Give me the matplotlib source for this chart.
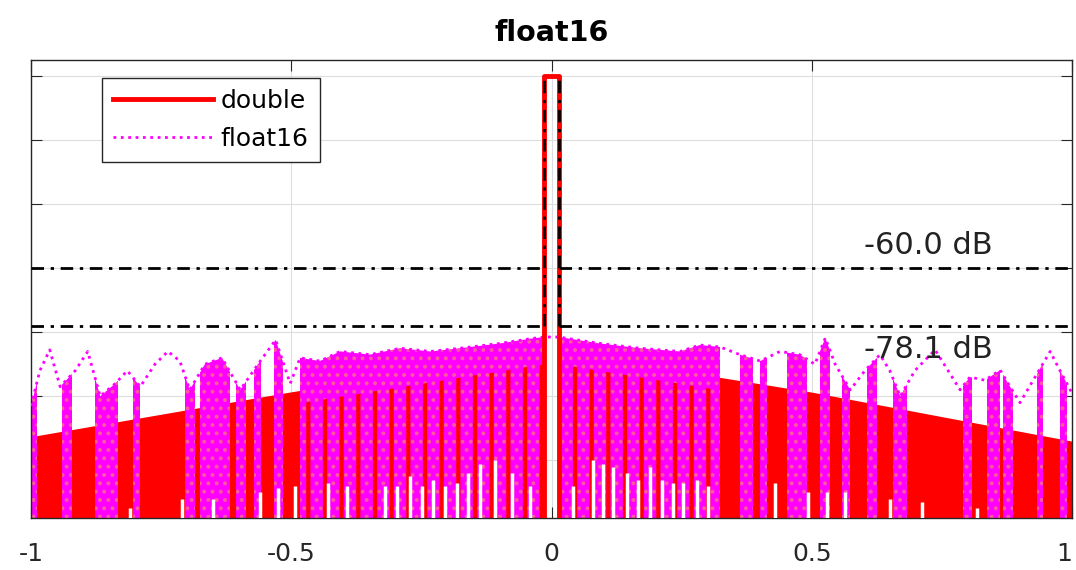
import numpy as np
import matplotlib
matplotlib.use('Agg')
from matplotlib import pyplot as plt
from matplotlib.patches import Rectangle

# envelope of the double precision spectrum (normalized frequency, dB)
double_freq = [-1.0, -0.5, -0.014, 0.014, 0.5, 1.0]
double_db = [-112.6, -98.6, -86.0, -86.0, -98.7, -114.0]

# main lobe of both traces
mainlobe_freq = [-0.014, -0.014, 0.014, 0.014]
mainlobe_db = [-138.0, 0.0, 0.0, -138.0]

# upper envelope of the float16 spectrum
f16_freq = [-1.0, -0.983, -0.964, -0.944, -0.915, -0.891, -0.867, -0.838, -0.815, -0.790,
            -0.762, -0.737, -0.714, -0.695, -0.666, -0.633, -0.598, -0.564, -0.530, -0.502,
            -0.483, -0.445, -0.406, -0.349, -0.291, -0.233, -0.176, -0.099, -0.040, -0.014,
            0.014, 0.093, 0.170, 0.247, 0.285, 0.324, 0.362, 0.401, 0.439, 0.477,
            0.506, 0.526, 0.545, 0.574, 0.602, 0.631, 0.650, 0.670, 0.698, 0.737,
            0.762, 0.785, 0.804, 0.833, 0.862, 0.881, 0.900, 0.929, 0.958, 0.977, 1.0]
f16_db = [-103, -92, -85.5, -97, -92, -86, -100, -96, -92, -97,
          -90, -86, -89, -98, -90, -88, -98, -90, -82.4, -96,
          -88, -89, -86, -87, -85, -86, -85, -83.5, -82, -81.5,
          -81.5, -83.5, -85, -86, -84, -84.6, -87, -89, -86, -87,
          -90, -81.8, -90, -98, -92, -87, -92, -100, -92, -85.5,
          -92, -98, -94, -95, -91.8, -97, -102, -94, -86, -92, -99]

# frequency ranges where the float16 trace covers the double one
f16_bands = [(-1.0, -0.988), (-0.940, -0.921), (-0.877, -0.833), (-0.804, -0.790),
             (-0.704, -0.685), (-0.675, -0.618), (-0.606, -0.587), (-0.571, -0.558),
             (-0.534, -0.515), (-0.483, -0.014),
             (0.014, 0.324), (0.362, 0.387), (0.401, 0.414), (0.452, 0.491),
             (0.516, 0.535), (0.559, 0.573), (0.606, 0.625), (0.656, 0.683),
             (0.790, 0.808), (0.837, 0.862), (0.867, 0.886), (0.933, 0.944), (0.977, 0.990)]
# parts of the float16 band where the double trace still shows through
mixed_bands = [(-0.483, -0.014), (0.014, 0.324)]

# nulls common to both traces (white gaps at the bottom)
null_freq = [-0.810, -0.710, -0.650, -0.560, -0.525, -0.493, -0.429, -0.393,
             -0.320, -0.297, -0.272, -0.249, -0.228, -0.205, -0.182, -0.160,
             -0.137, -0.109, -0.076, -0.041,
             0.041, 0.080, 0.099, 0.118, 0.145, 0.166, 0.189, 0.212, 0.233, 0.253,
             0.280, 0.301, 0.429, 0.493, 0.529, 0.564, 0.650, 0.712, 0.818]
null_db = [-135, -132, -132, -130, -128.6, -128, -127, -128,
           -128, -128, -125, -128, -126, -128, -127, -124,
           -121, -120, -124, -128,
           -128, -120, -121, -122, -124, -126, -122, -126, -127, -127,
           -126, -128, -127, -130, -130, -130, -132, -133, -135]

levels = [-60.0, -78.1]

ylo, yhi = -138, 5
red = '#ff0000'
mag = '#ff00ff'

fig = plt.figure(figsize=(10.76, 5.70), dpi=100)
ax = fig.add_axes([31 / 1076, 52 / 570, 1041 / 1076, 458 / 570])

# double: dense lobes drawn as a solid mass
ax.fill_between(double_freq[:3], ylo, double_db[:3], color=red, lw=0, zorder=1)
ax.fill_between(double_freq[3:], ylo, double_db[3:], color=red, lw=0, zorder=1)

# float16 columns, clipped to its envelope
plt.rcParams['hatch.linewidth'] = 1.6
env = ax.fill_between(f16_freq, ylo, f16_db, color='none', lw=0)
env_path = env.get_paths()[0]
for a, b in f16_bands:
    span = ax.axvspan(a, b, facecolor=mag, edgecolor='#ff5a9a', hatch='..', lw=0, zorder=2)
    span.set_clip_path(env_path, ax.transData)

# red lobes peeking through the float16 mass
plt.rcParams['hatch.linewidth'] = 3.0
for a, b in mixed_bands:
    side = slice(0, 3) if a < 0 else slice(3, 6)
    hatch = ax.fill_between(double_freq[side], ylo, np.array(double_db[side]) - 4,
                            facecolor='none', edgecolor=red, hatch='|', lw=0, zorder=2.5)
    clip = Rectangle((a, ylo), b - a, yhi - ylo, transform=ax.transData)
    hatch.set_clip_path(clip)

f16_line, = ax.plot(f16_freq, f16_db, color=mag, ls=':', lw=2, zorder=3)
ax.vlines(null_freq, ylo, null_db, color='white', lw=2.5, zorder=3.5)

dbl_line, = ax.plot(mainlobe_freq, mainlobe_db, color=red, lw=3.5, zorder=4)

dashdot = (0, (4.5, 2.4, 1.2, 2.4))
for lev in levels:
    ax.hlines(lev, -1, mainlobe_freq[0], colors='black', lw=2, linestyles=[dashdot], zorder=5)
    ax.hlines(lev, mainlobe_freq[-1], 1, colors='black', lw=2, linestyles=[dashdot], zorder=5)
ax.vlines([mainlobe_freq[0], mainlobe_freq[-1]], levels[-1], 0, colors='black', lw=2,
          linestyles=[dashdot], zorder=5)

ax.text(0.6, levels[0] + 7, f'{levels[0]:.1f} dB', fontsize=22, va='center', color='#222222')
ax.text(0.6, levels[1] - 7.4, f'{levels[1]:.1f} dB', fontsize=22, va='center', color='#222222')

ax.set_xlim(-1, 1)
ax.set_ylim(ylo, yhi)
ax.set_xticks([-1, -0.5, 0, 0.5, 1])
ax.set_xticklabels(['-1', '-0.5', '0', '0.5', '1'])
ax.get_xticklabels()[-1].set_ha('right')
ax.set_yticks(np.arange(-120, 1, 20))
ax.set_yticklabels([])
ax.tick_params(direction='in', length=8, top=True, right=True, labelsize=18,
               pad=17, colors='#262626')
ax.grid(True, color='#dddddd', lw=0.8)
ax.set_axisbelow(True)
for s in ax.spines.values():
    s.set_color('#262626')
    s.set_linewidth(1.0)

ax.set_title('float16', fontsize=20.5, fontweight='bold', pad=14)

leg = ax.legend([dbl_line, f16_line], ['double', 'float16'], loc='upper left',
                bbox_to_anchor=(0.068, 0.961), borderaxespad=0, fontsize=18,
                handlelength=4.0, handletextpad=0.3, labelspacing=0.55,
                fancybox=False, framealpha=1, edgecolor='#262626', borderpad=0.45)
leg.get_frame().set_linewidth(1.0)

fig.savefig('out.png', dpi=100)
